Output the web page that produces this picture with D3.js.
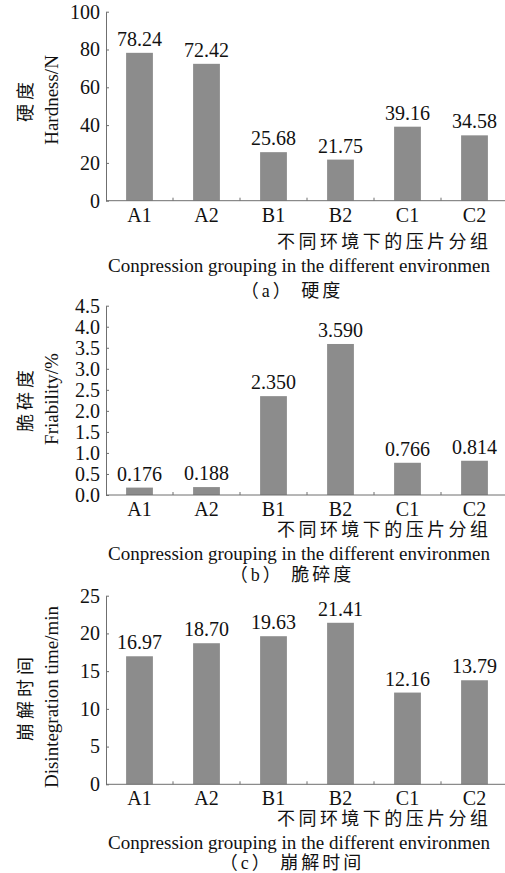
<!DOCTYPE html>
<html>
<head>
<meta charset="utf-8">
<script src="https://cdn.jsdelivr.net/npm/d3@7"></script>
<style>
  body { margin: 0; background: #fff; }
  svg { display: block; }
  text { font-family: "Liberation Serif", "Noto Sans CJK SC", serif; fill: #111; }
</style>
</head>
<body>
<svg id="chart" width="505" height="873"></svg>
<script>
// grupos de compresión
var groups = ["A1", "A2", "B1", "B2", "C1", "C2"];

// valores de cada panel
var hardness = [78.24, 72.42, 25.68, 21.75, 39.16, 34.58];
var friability = [0.176, 0.188, 2.350, 3.590, 0.766, 0.814];
var disintegration = [16.97, 18.70, 19.63, 21.41, 12.16, 13.79];

// ticks del eje y
var hardnessTicks = [0, 20, 40, 60, 80, 100];
var friabilityTicks = [0, 0.5, 1.0, 1.5, 2.0, 2.5, 3.0, 3.5, 4.0, 4.5];
var disintegrationTicks = [0, 5, 10, 15, 20, 25];

var xTitleCn = "不同环境下的压片分组";
var xTitleEn = "Conpression grouping in the different environmen";

var svg = d3.select("#chart");
var left = 106, right = 508;
var barColor = "#8c8c8c", axisColor = "#6f6f6f";

function panel(cfg) {
  var g = svg.append("g");

  var x = d3.scaleBand().domain(groups).range([left, right]);
  var y = d3.scaleLinear().domain([0, cfg.max]).range([cfg.bottom, cfg.top]);
  var bw = x.bandwidth() * 0.4;

  // barras
  g.selectAll(".bar")
    .data(cfg.values)
    .enter().append("rect")
      .attr("class", "bar")
      .attr("x", function (d, i) { return x(groups[i]) + (x.bandwidth() - bw) / 2 })
      .attr("y", function (d) { return y(d) })
      .attr("width", bw)
      .attr("height", function (d) { return y(0) - y(d) })
      .style("fill", barColor);

  // etiquetas de valor
  g.selectAll(".val")
    .data(cfg.values)
    .enter().append("text")
      .attr("x", function (d, i) { return x(groups[i]) + x.bandwidth() / 2 })
      .attr("y", function (d) { return y(d) - 7 })
      .attr("text-anchor", "middle")
      .style("font-size", "20px")
      .text(function (d) { return d3.format(cfg.fmt)(d) });

  // eje y
  var yAxis = d3.axisLeft(y)
    .tickValues(cfg.ticks)
    .tickFormat(d3.format(cfg.tickFmt))
    .tickSizeInner(-3)
    .tickSizeOuter(0)
    .tickPadding(6);
  var ya = g.append("g").attr("transform", "translate(" + left + ",0)").call(yAxis);
  ya.select(".domain").attr("stroke", axisColor);
  ya.selectAll(".tick line").attr("stroke", axisColor);
  ya.selectAll(".tick text").style("font-size", "20px").style("font-family", null);

  // eje x
  g.append("line")
    .attr("x1", left).attr("x2", 505)
    .attr("y1", y(0)).attr("y2", y(0))
    .attr("stroke", axisColor);
  g.selectAll(".xtick")
    .data(groups.slice(1))
    .enter().append("line")
      .attr("x1", function (d) { return x(d) }).attr("x2", function (d) { return x(d) })
      .attr("y1", y(0)).attr("y2", y(0) - 3)
      .attr("stroke", axisColor);
  g.selectAll(".xlab")
    .data(groups)
    .enter().append("text")
      .attr("x", function (d) { return x(d) + x.bandwidth() / 2 })
      .attr("y", cfg.bottom + 14)
      .attr("dy", "0.35em")
      .attr("text-anchor", "middle")
      .style("font-size", "20px")
      .text(function (d) { return d });

  // títulos del eje x
  g.append("text")
    .attr("x", 277).attr("y", cfg.cnY).attr("dy", "0.35em")
    .attr("textLength", 211).attr("lengthAdjust", "spacing")
    .style("font-size", "18px")
    .text(xTitleCn);
  g.append("text")
    .attr("x", 108).attr("y", cfg.enY).attr("dy", "0.35em")
    .attr("textLength", 382).attr("lengthAdjust", "spacingAndGlyphs")
    .style("font-size", "19px")
    .text(xTitleEn);

  // título del eje y
  var mid = cfg.labelMid;
  g.append("text")
    .attr("transform", "translate(26," + mid + ") rotate(-90)")
    .attr("text-anchor", "middle").attr("dy", "0.35em")
    .style("font-size", "18px")
    .style("letter-spacing", "4px")
    .text(cfg.cnLabel);
  g.append("text")
    .attr("transform", "translate(51," + mid + ") rotate(-90)")
    .attr("text-anchor", "middle").attr("dy", "0.35em")
    .style("font-size", "19px")
    .text(cfg.enLabel);

  // pie
  g.append("text")
    .attr("x", 292).attr("y", cfg.capY).attr("dy", "0.35em")
    .attr("text-anchor", "middle")
    .style("font-size", "18px")
    .style("letter-spacing", "3px")
    .text(cfg.caption);
}

panel({ values: hardness, max: 100, ticks: hardnessTicks, tickFmt: "d", fmt: ".2f",
  top: 11.7, bottom: 200.7, cnY: 242, enY: 265, capY: 291, labelMid: 100,
  cnLabel: "硬度", enLabel: "Hardness/N", caption: "（a） 硬度" });

panel({ values: friability, max: 4.5, ticks: friabilityTicks, tickFmt: ".1f", fmt: ".3f",
  top: 305.7, bottom: 495, cnY: 530, enY: 553, capY: 575, labelMid: 399,
  cnLabel: "脆碎度", enLabel: "Friability/%", caption: "（b） 脆碎度" });

panel({ values: disintegration, max: 25, ticks: disintegrationTicks, tickFmt: "d", fmt: ".2f",
  top: 595.7, bottom: 784.3, cnY: 819, enY: 842, capY: 863, labelMid: 697,
  cnLabel: "崩解时间", enLabel: "Disintegration time/min", caption: "（c） 崩解时间" });
</script>
</body>
</html>
